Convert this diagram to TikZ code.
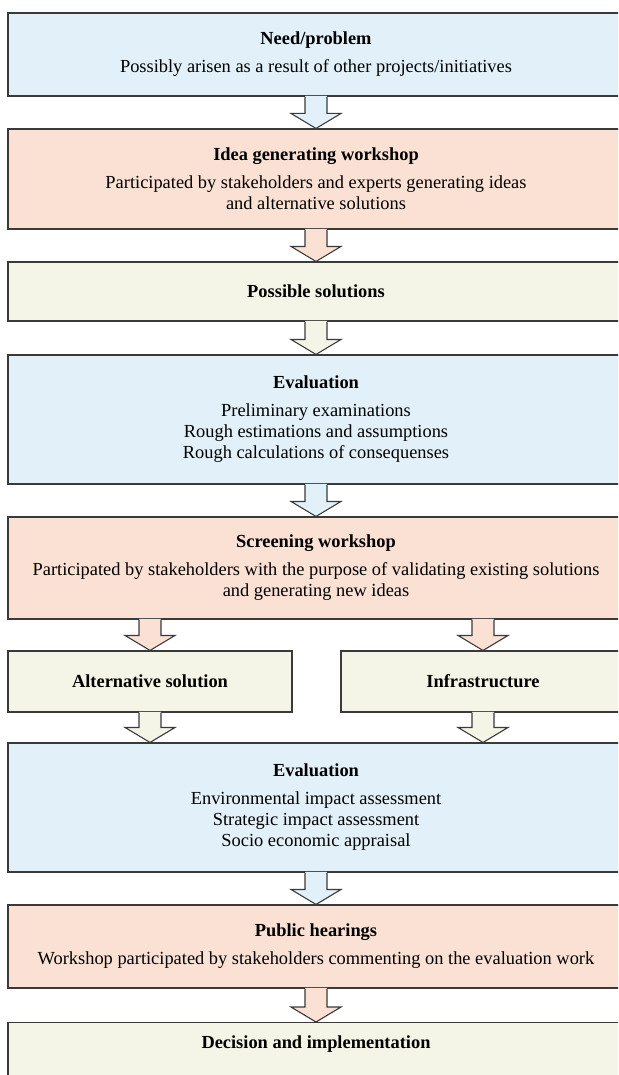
\documentclass[tikz,border=0pt]{standalone}
\usepackage{fontspec}
\setmainfont{Liberation Serif}
\usetikzlibrary{calc}

\definecolor{needblue}{HTML}{E2F0F9}
\definecolor{shoprose}{HTML}{FAE1D3}
\definecolor{solcream}{HTML}{F5F5E7}
\definecolor{rimgray}{HTML}{3A3A3A}

% block arrow: fill, x, upper node, lower node
\newcommand{\flowarrow}[4]{%
	\fill [#1] let \p1=(#3.south), \p2=(#4.north) in
	(#2pt-11pt,\y1+0.6pt) -- (#2pt-11pt,\y2+15pt) -- (#2pt-25pt,\y2+15pt) -- (#2pt,\y2)
	-- (#2pt+25pt,\y2+15pt) -- (#2pt+11pt,\y2+15pt) -- (#2pt+11pt,\y1+0.6pt) -- cycle;
	\draw [rim, line join=miter] let \p1=(#3.south), \p2=(#4.north) in
	(#2pt-11pt,\y1) -- (#2pt-11pt,\y2+15pt) -- (#2pt-25pt,\y2+15pt) -- (#2pt,\y2)
	-- (#2pt+25pt,\y2+15pt) -- (#2pt+11pt,\y2+15pt) -- (#2pt+11pt,\y1);
}

\begin{document}
\begin{tikzpicture}[x=1pt, y=-1pt,
	rim/.style={draw=rimgray, line width=1.1pt},
	box/.style={rim, minimum width=616pt, inner sep=0pt, align=center,
		font=\fontsize{18.4}{21}\selectfont}]
	\useasboundingbox (0,0) rectangle (618,1075);
	\clip (0,0) rectangle (618,1075);
	\node [box, fill=needblue, minimum height=83pt] (need) at (316,54.5)
	{\textbf{Need/problem}\\[7pt] Possibly arisen as a result of other projects/initiatives};
	\node [box, fill=shoprose, minimum height=100pt] (idea) at (316,179)
	{\textbf{Idea generating workshop}\\[7pt] Participated by stakeholders and experts generating ideas\\
		and alternative solutions};
	\node [box, fill=solcream, minimum height=59pt] (possible) at (316,291.5)
	{\textbf{Possible solutions}};
	\node [box, fill=needblue, minimum height=129pt] (evalA) at (316,419.5)
	{\textbf{Evaluation}\\[7pt] Preliminary examinations\\ Rough estimations and assumptions\\
		Rough calculations of consequenses};
	\node [box, fill=shoprose, minimum height=102pt] (screen) at (316,568)
	{\textbf{Screening workshop}\\[7pt] Participated by stakeholders with the purpose of validating existing solutions\\
		and generating new ideas};
	\node [box, fill=solcream, minimum width=284pt, minimum height=61pt] (altsol) at (150,681.5)
	{\textbf{Alternative solution}};
	\node [box, fill=solcream, minimum width=284pt, minimum height=61pt] (infra) at (483,681.5)
	{\textbf{Infrastructure}};
	\node [box, fill=needblue, minimum height=129pt] (evalB) at (316,807.5)
	{\textbf{Evaluation}\\[7pt] Environmental impact assessment\\ Strategic impact assessment\\
		Socio economic appraisal};
	\node [box, fill=shoprose, minimum height=83pt] (hearing) at (316,946.5)
	{\textbf{Public hearings}\\[7pt] Workshop participated by stakeholders commenting on the evaluation work};
	\node [box, fill=solcream, anchor=north, text height=26pt, text depth=60pt] (decision) at (316,1022)
	{\textbf{Decision and implementation}};
	\flowarrow{needblue}{316}{need}{idea}
	\flowarrow{shoprose}{316}{idea}{possible}
	\flowarrow{solcream}{316}{possible}{evalA}
	\flowarrow{needblue}{316}{evalA}{screen}
	\flowarrow{shoprose}{150}{screen}{altsol}
	\flowarrow{shoprose}{483}{screen}{infra}
	\flowarrow{solcream}{150}{altsol}{evalB}
	\flowarrow{solcream}{483}{infra}{evalB}
	\flowarrow{needblue}{316}{evalB}{hearing}
	\flowarrow{shoprose}{316}{hearing}{decision}
\end{tikzpicture}
\end{document}
